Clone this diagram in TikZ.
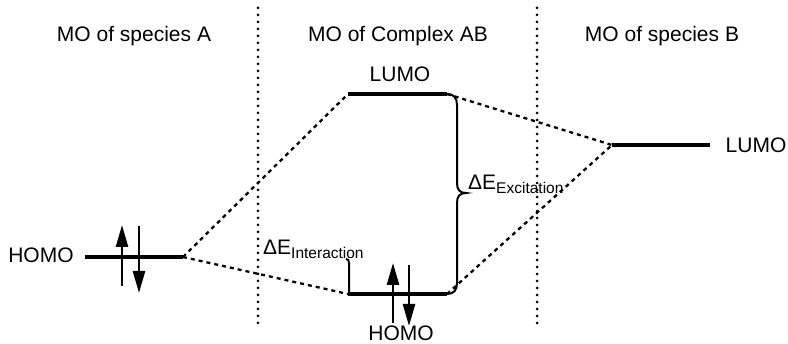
\documentclass[tikz,border=0pt]{standalone}
\usepackage{fontspec}
\setmainfont{Liberation Sans}
\usetikzlibrary{arrows.meta}
\begin{document}
\begin{tikzpicture}[x=1pt,y=-1pt,
  level/.style={line width=4.5pt},
  sep/.style={line width=3pt, line cap=round, dash pattern=on 0pt off 7pt},
  corr/.style={line width=2.3pt, dash pattern=on 4pt off 4pt},
  spin/.style={line width=2.5pt, -{Triangle[length=22pt,width=12pt]}},
  lbl/.style={font=\fontsize{21}{25}\selectfont, inner sep=0pt, anchor=base},
  dlbl/.style={font=\fontsize{21}{25}\selectfont, inner sep=0pt, anchor=base west},
  bracestyle/.style={line width=2pt}
]
\useasboundingbox (0,0) rectangle (788,344);
\newcommand{\mysub}[1]{\raisebox{-4pt}{\fontsize{15.5}{18}\selectfont #1}}
% separators
\coordinate (s1t) at (258,8);  \coordinate (s1b) at (258,325);
\coordinate (s2t) at (537,8);  \coordinate (s2b) at (537,325);
\draw[sep] (s1t) -- (s1b);
\draw[sep] (s2t) -- (s2b);
% headers
\node[lbl] (tA) at (134,42) {MO of species A};
\node[lbl] (tC) at (398,42) {MO of Complex AB};
\node[lbl] (tB) at (662,42) {MO of species B};
% levels
\coordinate (aL) at (85,257);  \coordinate (aR) at (183,257);
\coordinate (lL) at (348,94);  \coordinate (lR) at (447,94);
\coordinate (hL) at (348,294); \coordinate (hR) at (447,294);
\coordinate (bL) at (612,145); \coordinate (bR) at (710,145);
\draw[level] (aL) -- (aR);
\draw[level] (lL) -- (lR);
\draw[level] (hL) -- (hR);
\draw[level] (bL) -- (bR);
% correlation lines
\draw[corr] (aR) -- (lL);
\draw[corr] (aR) -- (hL);
\draw[corr] (lR) -- (bL);
\draw[corr] (hR) -- (bL);
% electrons
\draw[spin] (122,286) -- (122,225);
\draw[spin] (139,226) -- (139,293);
\draw[spin] (393,323) -- (393,263);
\draw[spin] (409,265) -- (409,326);
% level labels
\node[lbl] (hAl) at (41,263) {HOMO};
\node[lbl] (lCl) at (400,82) {LUMO};
\node[lbl] (hCl) at (401,341) {HOMO};
\node[lbl] (lBl) at (756,153) {LUMO};
% excitation brace
\draw[bracestyle] (lR) .. controls (454,94) and (457,98) .. (457,105) -- (457,183)
  .. controls (457,190) and (460,193) .. (466,193)
  .. controls (460,193) and (457,196) .. (457,203) -- (457,283)
  .. controls (457,290) and (454,294) .. (hR);
\node[dlbl] (dEx) at (468,190) {ΔE\mysub{Excitation}};
% interaction bracket
\draw[bracestyle] (346,259) .. controls (348,259) and (349,260) .. (349,263) -- (349,294);
\node[dlbl] (dEi) at (263,255) {ΔE\mysub{Interaction}};
\end{tikzpicture}
\end{document}
